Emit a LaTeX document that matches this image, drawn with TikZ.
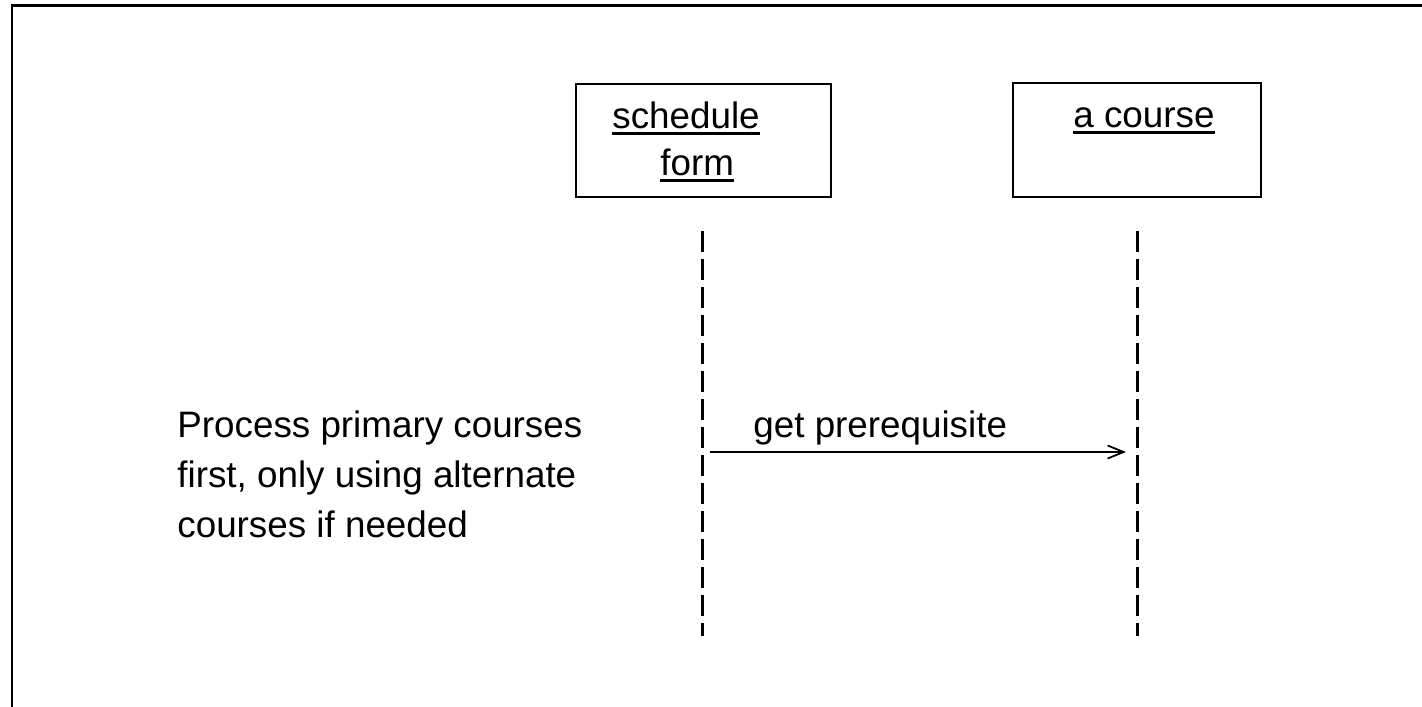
\documentclass[tikz,border=0pt]{standalone}
\usepackage{fontspec}
\setmainfont{Liberation Sans}
\usetikzlibrary{arrows.meta}
\tikzset{
  txt/.style={inner sep=0pt, anchor=base west, font=\fontsize{18.4pt}{22pt}\selectfont},
  objbox/.style={draw, line width=1.1pt, rectangle, inner sep=0pt},
  lifeline/.style={line width=1.5pt, dash pattern=on 10.5pt off 3.5pt},
  uline/.style={line width=1.3pt},
  msg/.style={line width=0.9pt, -{Straight Barb[length=8pt,width=6.5pt,line width=0.9pt]}},
  frame/.style={line width=1.1pt}
}
\begin{document}
\begin{tikzpicture}[x=0.5pt,y=-0.5pt]
\useasboundingbox (0,0) rectangle (1422,706);
% frame (only top and left visible)
\coordinate (fbl) at (12,712);
\coordinate (ftl) at (12,5.5);
\coordinate (ftr) at (1428,5.5);
\draw[frame] (fbl) -- (ftl) -- (ftr);
% object boxes
\node[objbox, minimum width=127.5pt, minimum height=56.5pt] (sf) at (703.5,140.5) {};
\node[objbox, minimum width=124pt, minimum height=57pt] (ac) at (1137,140) {};
% labels
\node[txt] (sft1) at (612,128) {schedule};
\node[txt] (sft2) at (660,175) {form};
\node[txt] (act) at (1073,127) {a course};
\draw[uline] ([yshift=-2.7pt]sft1.base west) -- ([yshift=-2.7pt]sft1.base east);
\draw[uline] ([yshift=-2.7pt]sft2.base west) -- ([yshift=-2.7pt]sft2.base east);
\draw[uline] ([yshift=-2.7pt]act.base west) -- ([yshift=-2.7pt]act.base east);
% lifelines
\coordinate (l1s) at (702,231);
\coordinate (l1e) at (702,636);
\coordinate (l2s) at (1137,231);
\coordinate (l2e) at (1137,636);
\draw[lifeline] (l1s) -- (l1e);
\draw[lifeline] (l2s) -- (l2e);
% message
\coordinate (m1) at (710,452);
\coordinate (m2) at (1126,452);
\draw[msg] (m1) -- (m2);
\node[txt] (msgl) at (753,437) {get prerequisite};
% note
\node[txt] (n1) at (177,437) {Process primary courses};
\node[txt] (n2) at (177,487) {first, only using alternate};
\node[txt] (n3) at (177,537) {courses if needed};
\end{tikzpicture}
\end{document}
